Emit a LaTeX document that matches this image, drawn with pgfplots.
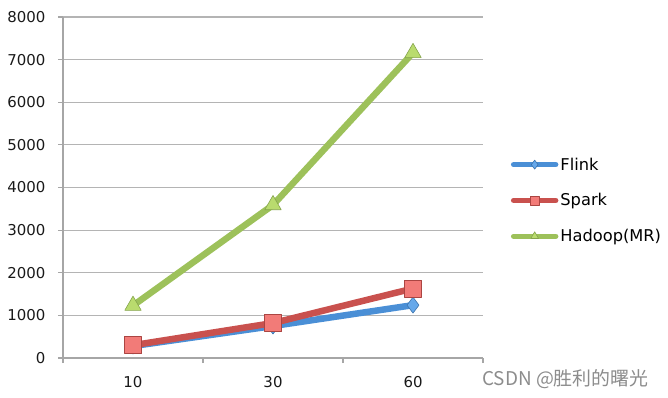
\documentclass[border=0pt]{standalone}
\usepackage{pgfplots}
\pgfplotsset{compat=1.18}
\usepackage{fontspec}
\setmainfont{DejaVu Sans}
\newfontfamily\cjk{Noto Sans CJK SC}
\definecolor{axgray}{HTML}{A6A6A6}
\definecolor{gridgray}{HTML}{B4B4B4}
\definecolor{flinkline}{HTML}{4A8FD6}
\definecolor{flinkfill}{HTML}{66A8EA}
\definecolor{sparkline}{HTML}{C9514E}
\definecolor{sparkfill}{HTML}{F27B78}
\definecolor{hadline}{HTML}{9DC15A}
\definecolor{hadfill}{HTML}{B9DB6E}
\begin{document}
\begin{tikzpicture}[x=1bp,y=1bp]
\path[use as bounding box] (0,0) rectangle (668,397);
\begin{axis}[
  at={(63bp,39bp)}, anchor=south west,
  scale only axis, width=420bp, height=341bp,
  xmin=-0.5, xmax=2.5, ymin=0, ymax=8000,
  axis x line=bottom, axis y line=left,
  axis line style={axgray, line width=1.2bp, -},
  xtick={-0.5,0.5,1.5,2.5}, xticklabels={},
  x tick style={axgray, line width=1.2bp},
  extra x ticks={0,1,2}, extra x tick labels={10,30,60},
  extra x tick style={major tick length=0pt, grid=none},
  ytick={0,1000,...,8000},
  y tick style={axgray, line width=1.2bp},
  tick align=outside, major tick length=5bp,
  ymajorgrids, y grid style={gridgray, line width=1.1bp},
  /pgf/number format/assume math mode=true,
  /pgf/number format/1000 sep={},
  ticklabel style={font=\fontsize{15}{17}\selectfont, text=black!90},
  yticklabel style={xshift=-9bp},
  xticklabel style={yshift=-15bp},
  legend style={draw=none, fill=none, at={(1.066,0.462)}, anchor=west,
    font=\fontsize{16.3}{18}\selectfont, row sep=18bp,
    cells={anchor=west}, inner sep=0pt},
  legend image code/.code={%
    \draw[#1, line width=5.5bp, line cap=round, mark=none] (0bp,0bp) -- (42bp,0bp);
    \draw[#1, line width=0.5bp, mark size=4.5bp, mark repeat=2, mark phase=2] plot coordinates {(0bp,0bp)(21bp,0bp)(42bp,0bp)};},
  clip=false,
]
\addplot[flinkline, line width=6.5bp, line join=round, mark=diamond*, mark size=8bp,
  mark options={fill=flinkfill, draw=flinkline!80!black, line width=0.6bp}]
  coordinates {(0,280) (1,750) (2,1240)};
\addlegendentry{Flink}
\addplot[sparkline, line width=6.5bp, line join=round, mark=square*, mark size=8.5bp,
  mark options={fill=sparkfill, draw=sparkline!85!black, line width=0.6bp}]
  coordinates {(0,300) (1,820) (2,1630)};
\addlegendentry{Spark}
\addplot[hadline, line width=6.5bp, line join=round, mark=triangle*, mark size=9.5bp,
  mark options={fill=hadfill, draw=hadline!85!black, line width=0.6bp}]
  coordinates {(0,1230) (1,3590) (2,7160)};
\addlegendentry{Hadoop(MR)}
\end{axis}
\node[anchor=west, inner sep=0pt, text=black!45, font=\cjk\fontsize{19}{21}\selectfont] at (482bp,18bp) {CSDN @胜利的曙光};
\end{tikzpicture}
\end{document}
